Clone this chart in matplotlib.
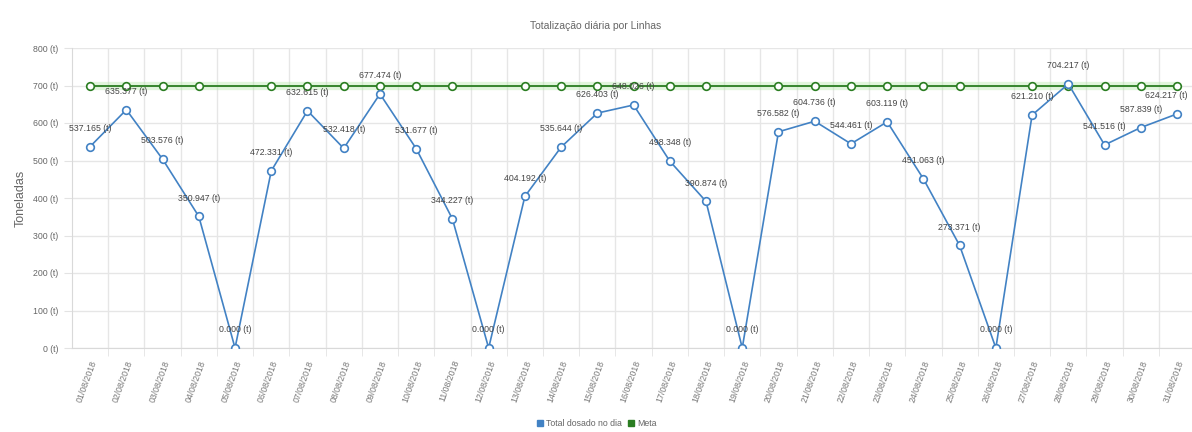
import matplotlib
matplotlib.use("Agg")
from matplotlib import pyplot as plt
from matplotlib.lines import Line2D
import numpy as np

# Data
dias = ["%02d/08/2018" % d for d in range(1, 32)]

total_dosado = [537.165, 635.377, 503.576, 350.947, 0.000, 472.331, 632.615,
                532.418, 677.474, 531.677, 344.227, 0.000, 404.192, 535.644,
                626.403, 648.026, 498.348, 390.874, 0.000, 576.582, 604.736,
                544.461, 603.119, 451.063, 273.371, 0.000, 621.210, 704.217,
                541.516, 587.839, 624.217]

meta = [700] * 31

y_ticks = [0, 100, 200, 300, 400, 500, 600, 700, 800]

blue = '#4282c4'
green = '#2a7d21'
grey = '#666666'

plt.rcParams['font.family'] = ['Liberation Sans', 'DejaVu Sans']

fig = plt.figure(figsize=(11.92, 4.32), dpi=100)
ax = fig.add_axes([72 / 1192, 84 / 432, 1120 / 1192, 300 / 432])

x = np.arange(1, len(dias) + 1)

# meta line (markers hidden on days with no production)
ax.plot(x, meta, color='#b5e8a8', linewidth=6, alpha=0.4, zorder=2,
        solid_capstyle='butt')
ax.plot(x, meta, color=green, linewidth=1.3, zorder=3)
com_marcador = [i for i, v in enumerate(total_dosado) if v > 0]
ax.plot(x[com_marcador], [meta[i] for i in com_marcador], linestyle='none',
        marker='o', markersize=5.5, markerfacecolor='white',
        markeredgecolor=green, markeredgewidth=1.2, zorder=4)

# total line
ax.plot(x, total_dosado, color=blue, linewidth=1.2, marker='o',
        markersize=5.5, markerfacecolor='white', markeredgecolor=blue,
        markeredgewidth=1.2, zorder=5)

for i, (xi, v) in enumerate(zip(x, total_dosado)):
    dx = -8 if i == len(x) - 1 else 0
    ax.annotate("%.3f (t)" % v, (xi, v), xytext=(dx, 10),
                textcoords='offset points', ha='center', va='bottom',
                fontsize=6.3, color='#444444', zorder=6)

ax.set_xlim(0.5, 0.5 + 1120 / 36.23)
ax.set_ylim(0, 800)
ax.set_yticks(y_ticks)
ax.set_yticklabels(["%d (t)" % t for t in y_ticks])
ax.set_xticks(x)
ax.set_xticklabels(dias, rotation=70, ha='right', rotation_mode='anchor')
ax.set_xticks(x[:-1] + 0.5, minor=True)

ax.tick_params(axis='x', which='major', length=0, labelsize=6.3,
               labelcolor='#777777', pad=8)
ax.tick_params(axis='x', which='minor', length=6, color='#e3e3e3')
ax.tick_params(axis='y', length=6, color='#e3e3e3', labelsize=6.3,
               labelcolor=grey, pad=4)

ax.grid(True, which='minor', axis='x', color='#e6e6e6', linewidth=1)
ax.grid(True, which='major', axis='y', color='#e6e6e6', linewidth=1)
ax.set_axisbelow(True)
for s in ['top', 'right']:
    ax.spines[s].set_visible(False)
for s in ['left', 'bottom']:
    ax.spines[s].set_color('#d9d9d9')

ax.set_ylabel("Toneladas", fontsize=9, color=grey, labelpad=4)
fig.text(0.5, 1 - 26 / 432, "Totalização diária por Linhas", ha='center',
         va='center', fontsize=7.5, color=grey)

handles = [Line2D([], [], linestyle='none', marker='s', markersize=5,
                  markerfacecolor=blue, markeredgecolor=blue),
           Line2D([], [], linestyle='none', marker='s', markersize=5,
                  markerfacecolor=green, markeredgecolor=green)]
fig.legend(handles, ["Total dosado no dia", "Meta"], loc='center',
           bbox_to_anchor=(0.5, 1 - 424 / 432), ncol=2, frameon=False,
           fontsize=6.3, labelcolor=grey, handletextpad=0.2,
           columnspacing=0.6, handlelength=1)

fig.savefig("out.png", dpi=100)
